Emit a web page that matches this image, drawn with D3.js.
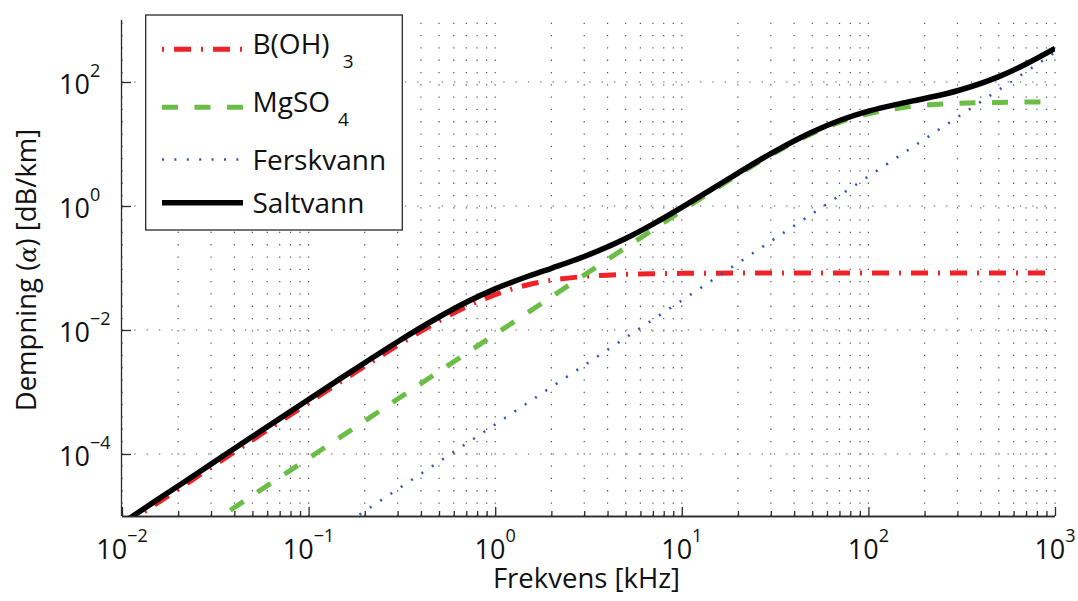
<!DOCTYPE html>
<html>
<head>
<meta charset="utf-8">
<script src="https://cdn.jsdelivr.net/npm/d3@7"></script>
<style>
  html, body { margin: 0; padding: 0; background: #fff; }
  svg text { font-family: "Open Sans", "Noto Sans", sans-serif; fill: #111; }
</style>
</head>
<body>
<svg id="chart" width="1078" height="601"></svg>
<script>
// ---- data (frequency in kHz, attenuation in dB/km) ----
const freq = [0.01, 0.015, 0.02, 0.03, 0.05, 0.07, 0.1, 0.15, 0.2, 0.3, 0.5, 0.7,
              1, 1.5, 2, 3, 5, 7, 10, 15, 20, 30, 50, 70, 100, 150, 200, 300, 500, 700, 1000];
const boric = [6.75e-6, 1.52e-5, 2.70e-5, 6.07e-5, 1.68e-4, 3.29e-4, 6.69e-4, 1.49e-3, 2.61e-3, 5.66e-3, 0.0140, 0.0237,
               0.0372, 0.0537, 0.0635, 0.0730, 0.0791, 0.0810, 0.0820, 0.0826, 0.0828, 0.0829, 0.0830, 0.0830, 0.0830,
               0.0830, 0.0830, 0.0830, 0.0830, 0.0830, 0.0830];
const mgso4 = [8.55e-7, 1.92e-6, 3.42e-6, 7.70e-6, 2.14e-5, 4.19e-5, 8.55e-5, 1.92e-4, 3.42e-4, 7.70e-4, 2.14e-3, 4.19e-3,
               8.55e-3, 0.0192, 0.0342, 0.0769, 0.213, 0.415, 0.840, 1.85, 3.19, 6.63, 14.8, 22.4, 30.7,
               38.4, 42.1, 45.2, 46.9, 47.5, 47.7];
const fresh = [3.0e-8, 6.75e-8, 1.2e-7, 2.7e-7, 7.5e-7, 1.47e-6, 3.0e-6, 6.75e-6, 1.2e-5, 2.7e-5, 7.5e-5, 1.47e-4,
               3.0e-4, 6.75e-4, 1.2e-3, 2.7e-3, 7.5e-3, 0.0147, 0.030, 0.0675, 0.12, 0.27, 0.75, 1.47, 3.0,
               6.75, 12, 27, 75, 147, 300];
const salt = [7.61e-6, 1.72e-5, 3.05e-5, 6.87e-5, 1.91e-4, 3.72e-4, 7.58e-4, 1.69e-3, 2.96e-3, 6.46e-3, 0.0162, 0.0280,
              0.0461, 0.0736, 0.0989, 0.153, 0.299, 0.511, 0.952, 2.00, 3.40, 6.99, 15.6, 23.9, 33.8,
              45.2, 54.2, 72.3, 122, 195, 348];

const xMajor = [0.01, 0.1, 1, 10, 100, 1000];
const xMajorExp = ["\u22122", "\u22121", "0", "1", "2", "3"];
const yMajor = [1e-4, 1e-2, 1, 100];
const yMajorExp = ["\u22124", "\u22122", "0", "2"];

const seriesNames = ["B(OH)", "MgSO", "Ferskvann", "Saltvann"];
const seriesSubs = ["3", "4", "", ""];

// ---- layout ----
const svg = d3.select("#chart");
const L = 122, R = 1055, T = 20, B = 516;
const x = d3.scaleLog().domain([0.01, 1000]).range([L, R]);
const y = d3.scaleLog().domain([1e-5, 1000]).range([B, T]);

const styles = [
  { data: boric, color: "#ee2227", width: 5, dash: "17,10,2,10", legDash: "2,10,17,10" },
  { data: mgso4, color: "#6abd45", width: 5, dash: "16,16.5", legDash: "16,16.5" },
  { data: fresh, color: "#3a52b0", width: 2.6, dash: "2,10.4", legDash: "2,10.4" },
  { data: salt,  color: "#000000", width: 5.5, dash: null, legDash: null }
];

// grid
const gGrid = svg.append("g");
const xAll = x.ticks();
gGrid.selectAll("line.vg").data(xAll).join("line")
  .attr("x1", d => x(d)).attr("x2", d => x(d))
  .attr("y1", B).attr("y2", T)
  .attr("stroke", "#555").attr("stroke-width", 1.2)
  .attr("stroke-dasharray", "1.3,11");
gGrid.selectAll("line.hg").data(yMajor).join("line")
  .attr("x1", L).attr("x2", R)
  .attr("y1", d => y(d)).attr("y2", d => y(d))
  .attr("stroke", "#555").attr("stroke-width", 1.2)
  .attr("stroke-dasharray", "1.3,11");

// curves
svg.append("clipPath").attr("id", "clip")
  .append("rect").attr("x", L).attr("y", T).attr("width", R - L).attr("height", B - T);

const line = d3.line()
  .x((d, i) => x(freq[i]))
  .y(d => y(d))
  .curve(d3.curveMonotoneX);

const gCurves = svg.append("g").attr("clip-path", "url(#clip)");
styles.forEach(s => {
  gCurves.append("path")
    .attr("d", line(s.data))
    .attr("fill", "none")
    .attr("stroke", s.color)
    .attr("stroke-width", s.width)
    .attr("stroke-linejoin", "round")
    .attr("stroke-dasharray", s.dash);
});

// axes
const axisColor = "#2a2a2a";
const gx = svg.append("g").attr("transform", `translate(0,${B})`);
gx.call(d3.axisBottom(x).tickValues(xAll.filter(v => !xMajor.some(m => Math.abs(m - v) / m < 1e-6)))
  .tickSize(-5).tickFormat(""));
gx.call(g => g.append("g").call(d3.axisBottom(x).tickValues(xMajor).tickSize(-9).tickFormat("")));
gx.selectAll(".domain").attr("d", `M${L},0.5H${R}`);
gx.selectAll("path, line").attr("stroke", axisColor).attr("stroke-width", 1.3);

const gy = svg.append("g").attr("transform", `translate(${L},0)`);
gy.call(d3.axisLeft(y).tickValues(yMajor).tickSize(-9).tickFormat(""));
gy.selectAll(".domain").attr("d", `M-0.5,${B}V${T}`);
gy.selectAll("path, line").attr("stroke", axisColor).attr("stroke-width", 1.3);

// x tick labels
xMajor.forEach((v, i) => {
  const t = svg.append("text")
    .attr("x", x(v)).attr("y", 559)
    .attr("text-anchor", "middle")
    .style("font-size", "27px");
  t.append("tspan").text("10");
  t.append("tspan").attr("dy", -17).style("font-size", "18px").text(xMajorExp[i]);
});

// y tick labels
yMajor.forEach((v, i) => {
  const t = svg.append("text")
    .attr("x", 59).attr("y", y(v) + 12)
    .attr("text-anchor", "start")
    .style("font-size", "27px");
  t.append("tspan").text("10");
  t.append("tspan").attr("dy", -17).style("font-size", "18px").text(yMajorExp[i]);
});

// axis titles
svg.append("text")
  .attr("x", (L + R) / 2 - 2).attr("y", 588)
  .attr("text-anchor", "middle")
  .style("font-size", "27.5px")
  .text("Frekvens [kHz]");

const yt = svg.append("text")
  .attr("transform", "translate(36,270) rotate(-90)")
  .attr("text-anchor", "middle")
  .style("font-size", "27.5px");
yt.append("tspan").text("Dempning (");
yt.append("tspan").style("font-style", "italic").style("font-family", "DejaVu Serif").style("font-size", "24px").text("\u03b1");
yt.append("tspan").text(") [dB/km]");

// legend
const gL = svg.append("g");
gL.append("rect").attr("x", 145.7).attr("y", 15).attr("width", 256.6).attr("height", 215)
  .attr("fill", "#fff").attr("stroke", axisColor).attr("stroke-width", 1.3);
const legLineY = [49.3, 107.3, 159.5, 202.7];
const legTextY = [54, 111.7, 170, 213.3];
const legSubX = [342.7, 338];
const legSubY = [68.3, 126];
styles.forEach((s, i) => {
  gL.append("line")
    .attr("x1", 162).attr("x2", 243)
    .attr("y1", legLineY[i]).attr("y2", legLineY[i])
    .attr("stroke", s.color).attr("stroke-width", s.width)
    .attr("stroke-dasharray", s.legDash);
  gL.append("text")
    .attr("x", 252.5).attr("y", legTextY[i])
    .style("font-size", "28px")
    .text(seriesNames[i]);
  if (seriesSubs[i]) {
    gL.append("text")
      .attr("x", legSubX[i]).attr("y", legSubY[i])
      .style("font-size", "19px")
      .text(seriesSubs[i]);
  }
});
</script>
</body>
</html>
